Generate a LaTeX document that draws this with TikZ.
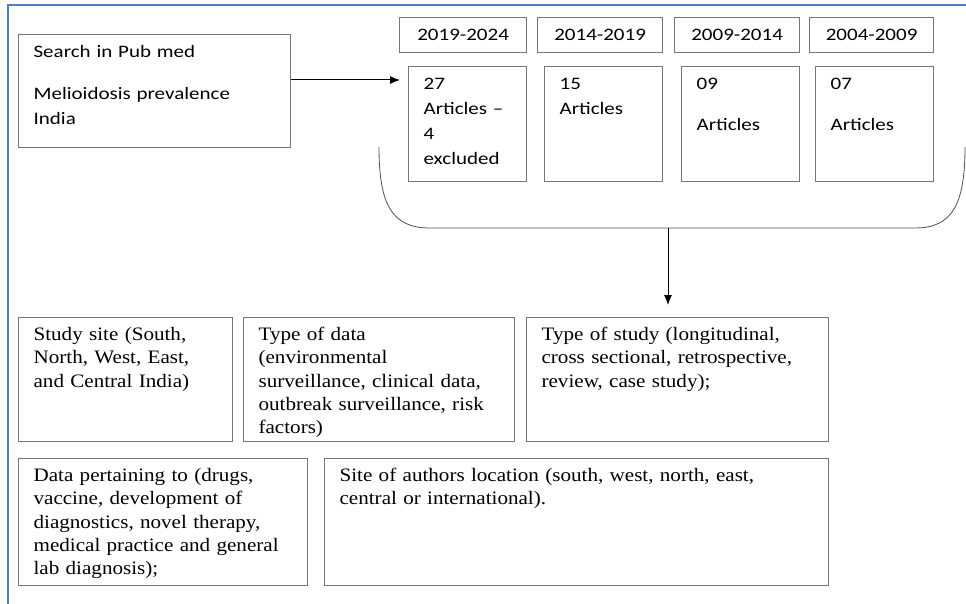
\documentclass[tikz,border=0pt]{standalone}
\usepackage{fontspec}
\setmainfont{Liberation Serif}
\newfontfamily\calfont{Carlito}[FakeStretch=1.2]
\newfontfamily\timesfont{Liberation Serif}[FakeStretch=1.11]
\usetikzlibrary{arrows.meta}
\definecolor{frameblue}{HTML}{4F81BD}
\definecolor{boxgray}{HTML}{767676}
\definecolor{curvegray}{HTML}{505050}

\begin{document}
\begin{tikzpicture}[x=1pt, y=-1pt,
    boxline/.style={draw=boxgray, line width=1.2pt},
    yearbox/.style={boxline, anchor=north west, minimum width=#1, minimum height=35pt,
        inner sep=0pt, font=\calfont\fontsize{17.5}{25}\selectfont},
    textbox/.style 2 args={boxline, anchor=north west, align=left, inner xsep=15pt,
        inner ysep=0pt, text height=23pt, text width=#1, text depth=#2},
    sansbox/.style 2 args={textbox={#1}{#2}, font=\calfont\fontsize{17.5}{25}\selectfont},
    serifbox/.style 2 args={textbox={#1}{#2}, font=\timesfont\fontsize{19}{23.3}\selectfont},
    arrow/.style={-{Latex[length=10pt,width=8pt]}, line width=1pt}
]
    \useasboundingbox (0,0) rectangle (966,604);

    % Page frame
    \draw[frameblue, line width=1.5pt] (966,5) -- (8,5) -- (8,604);

    % Search box
    \node[sansbox={242pt}{90pt}] (search) at (18,34)
        {Search in Pub med\\[17pt] Melioidosis prevalence\\ India};

    % Year ranges
    \node[yearbox=127pt] (y1) at (399,17) {2019-2024};
    \node[yearbox=125pt] (y2) at (537,17) {2014-2019};
    \node[yearbox=125pt] (y3) at (674,17) {2009-2014};
    \node[yearbox=124pt] (y4) at (809,17) {2004-2009};

    % Article counts
    \node[sansbox={88pt}{92pt}] (a1) at (408,66) {27\\ Articles –\\ 4\\ excluded};
    \node[sansbox={88pt}{92pt}] (a2) at (544,66) {15\\ Articles};
    \node[sansbox={88pt}{92pt}] (a3) at (681,66) {09\\[16pt] Articles};
    \node[sansbox={88pt}{92pt}] (a4) at (815,66) {07\\[16pt] Articles};

    % Bracket under the article boxes
    \draw[curvegray, line width=0.8pt] (379,147) .. controls (379,205) and (392,228) .. (430,228)
        -- (915,228) .. controls (952,228) and (965,205) .. (965,147);
    \coordinate (brk) at (668,228);
    \coordinate (ay) at (0,80);

    % Categories
    \node[serifbox={184pt}{101pt}] (site) at (18,317)
        {Study site (South,\\ North, West, East,\\ and Central India)};
    \node[serifbox={241pt}{101pt}] (dtype) at (243,317)
        {Type of data\\ (environmental\\ surveillance, clinical data,\\ outbreak surveillance, risk\\ factors)};
    \node[serifbox={272pt}{101pt}] (stype) at (526,317)
        {Type of study (longitudinal,\\ cross sectional, retrospective,\\ review, case study);};
    \node[serifbox={259pt}{104pt}] (pert) at (18,458)
        {Data pertaining to (drugs,\\ vaccine, development of\\ diagnostics, novel therapy,\\ medical practice and general\\ lab diagnosis);};
    \node[serifbox={474pt}{104pt}] (auth) at (324,458)
        {Site of authors location (south, west, north, east,\\ central or international).};

    % Arrows
    \draw[arrow, shorten >=8pt] (search.east |- ay) -- (a1.west |- ay);
    \draw[arrow, shorten >=12pt] (brk) -- (brk |- stype.north);
\end{tikzpicture}
\end{document}
